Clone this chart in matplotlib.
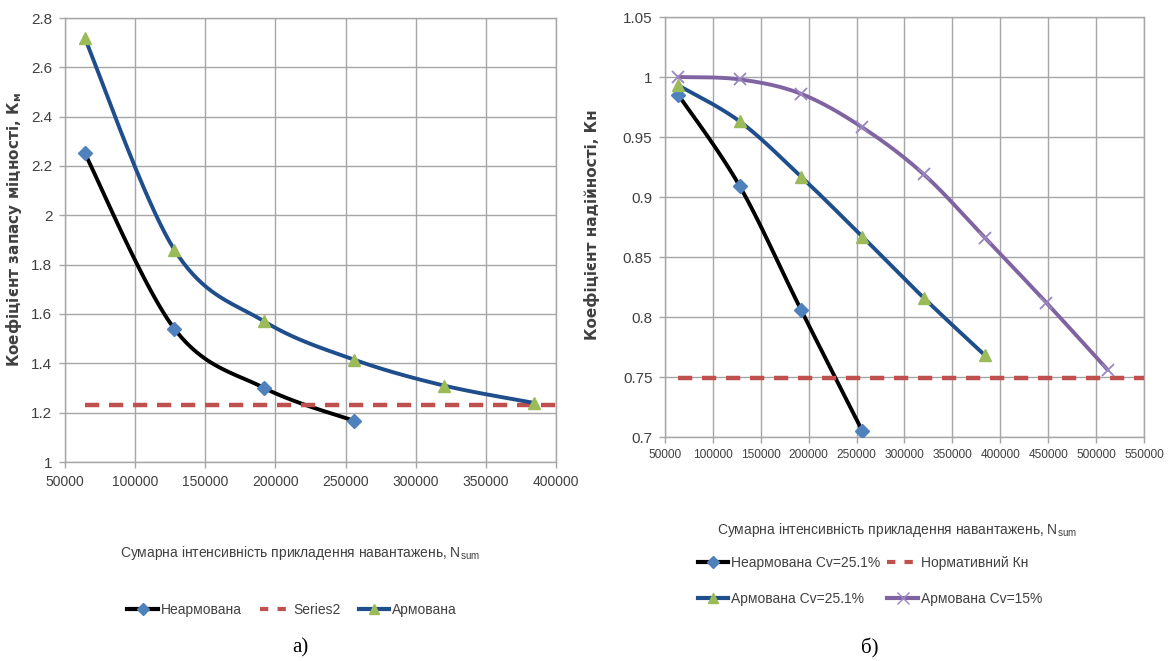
import numpy as np
import matplotlib
matplotlib.use("Agg")
import matplotlib.pyplot as plt
from matplotlib.lines import Line2D

# ---------------- data ----------------
# chart a)
a_x_unreinf = [64000, 128000, 192000, 256000]
a_y_unreinf = [2.253, 1.54, 1.30, 1.167]
a_x_reinf = [64000, 128000, 192000, 256000, 320000, 384000]
a_y_reinf = [2.72, 1.86, 1.57, 1.415, 1.31, 1.24]
a_x_norm = [64000, 400000]
a_y_norm = [1.232, 1.232]
a_labels = ["Неармована", "Series2", "Армована"]

# chart б)
b_x_unreinf = [64000, 128000, 192000, 256000]
b_y_unreinf = [0.985, 0.909, 0.806, 0.705]
b_x_reinf25 = [64000, 128000, 192000, 256000, 320000, 384000]
b_y_reinf25 = [0.993, 0.963, 0.917, 0.867, 0.816, 0.768]
b_x_reinf15 = [64000, 128000, 192000, 256000, 320000, 384000, 448000, 512000]
b_y_reinf15 = [1.0, 0.998, 0.986, 0.958, 0.919, 0.866, 0.812, 0.756]
b_x_norm = [64000, 550000]
b_y_norm = [0.749, 0.749]
b_labels = ["Неармована Cv=25.1%", "Нормативний Кн", "Армована Cv=25.1%", "Армована Cv=15%"]

xlabel = "Сумарна інтенсивність прикладення навантажень, N$_{\\mathregular{sum}}$"

# ---------------- style ----------------
TICKF = ["Liberation Sans", "DejaVu Sans"]
SERIF = ["Liberation Serif", "DejaVu Serif"]

C_BLACK = "#000000"
C_DIAM = "#4F81BD"
C_NAVY = "#1F4E8C"
C_GREEN = "#9BBB59"
C_RED = "#C0504D"
C_PURPLE = "#8064A2"
C_XMARK = "#9A86C0"
C_GRID = "#A6A6A6"
C_TEXT = "#404040"


def smooth(xs, ys, n=40):
    """Excel-like smoothed line (Catmull-Rom Bezier) through the given points."""
    xs = np.asarray(xs, float)
    ys = np.asarray(ys, float)
    if len(xs) < 3:
        return xs, ys
    px, py = [], []
    m = len(xs)
    for i in range(m - 1):
        p0 = (xs[max(i - 1, 0)], ys[max(i - 1, 0)])
        p1 = (xs[i], ys[i])
        p2 = (xs[i + 1], ys[i + 1])
        p3 = (xs[min(i + 2, m - 1)], ys[min(i + 2, m - 1)])
        c1 = (p1[0] + (p2[0] - p0[0]) / 6, p1[1] + (p2[1] - p0[1]) / 6)
        c2 = (p2[0] - (p3[0] - p1[0]) / 6, p2[1] - (p3[1] - p1[1]) / 6)
        t = np.linspace(0, 1, n)
        bx = (1 - t) ** 3 * p1[0] + 3 * (1 - t) ** 2 * t * c1[0] + 3 * (1 - t) * t ** 2 * c2[0] + t ** 3 * p2[0]
        by = (1 - t) ** 3 * p1[1] + 3 * (1 - t) ** 2 * t * c1[1] + 3 * (1 - t) * t ** 2 * c2[1] + t ** 3 * p2[1]
        px.extend(bx)
        py.extend(by)
    return np.array(px), np.array(py)


def fmt_num(v):
    return ("%.2f" % v).rstrip("0").rstrip(".")


def style_axes(ax, xlim, xticks, ylim, yticks, xsize, ysize):
    ax.set_xlim(*xlim)
    ax.set_ylim(*ylim)
    ax.set_xticks(xticks)
    ax.set_yticks(yticks)
    ax.set_xticklabels([str(v) for v in xticks], fontfamily=TICKF, fontsize=xsize, color=C_TEXT)
    ax.set_yticklabels([fmt_num(v) for v in yticks], fontfamily=TICKF, fontsize=ysize, color=C_TEXT)
    ax.grid(True, color=C_GRID, linewidth=1.0)
    ax.set_axisbelow(True)
    for s in ax.spines.values():
        s.set_color(C_GRID)
        s.set_linewidth(1.0)
    ax.tick_params(axis="both", direction="out", length=4, color=C_GRID, width=1.0, pad=5)


fig = plt.figure(figsize=(11.72, 6.61), dpi=100)
W, H = 1172, 661

# ---------------- chart a) ----------------
axA = fig.add_axes([65 / W, 1 - 462 / H, 491 / W, 444 / H])
style_axes(axA, (50000, 400000), list(range(50000, 400001, 50000)),
           (1.0, 2.8), [1.0, 1.2, 1.4, 1.6, 1.8, 2.0, 2.2, 2.4, 2.6, 2.8], 10, 11)

sx, sy = smooth(a_x_unreinf, a_y_unreinf)
axA.plot(sx, sy, color=C_BLACK, lw=2.8, solid_capstyle="round", zorder=3)
axA.plot(a_x_unreinf, a_y_unreinf, ls="none", marker="D", ms=7, color=C_DIAM, mec=C_DIAM, zorder=4)
axA.plot(a_x_norm, a_y_norm, color=C_RED, lw=3.2, dashes=(3.2, 2.2), zorder=3)
sx, sy = smooth(a_x_reinf, a_y_reinf)
axA.plot(sx, sy, color=C_NAVY, lw=2.8, solid_capstyle="round", zorder=3)
axA.plot(a_x_reinf, a_y_reinf, ls="none", marker="^", ms=9, color=C_GREEN, mec=C_GREEN, zorder=4)

fig.text(14 / W, 1 - 230 / H, "Коефіцієнт запасу міцності, К$_{\\mathregular{м}}$", rotation=90,
         ha="center", va="center", fontsize=11, color=C_TEXT, fontweight="bold",
         fontfamily=["DejaVu Sans"])
fig.text(300 / W, 1 - 553 / H, xlabel, ha="center", va="center",
         fontfamily=TICKF, fontsize=10, color=C_TEXT)

hA = [Line2D([], [], color=C_BLACK, lw=3, marker="D", ms=6, mfc=C_DIAM, mec=C_DIAM),
      Line2D([], [], color=C_RED, lw=3, dashes=(2, 2.2)),
      Line2D([], [], color=C_NAVY, lw=3, marker="^", ms=7, mfc=C_GREEN, mec=C_GREEN)]
legA = fig.legend(hA, a_labels, loc="center", bbox_to_anchor=(292 / W, 1 - 610 / H), ncol=3,
                  frameon=False, prop={"family": TICKF, "size": 10}, handlelength=2.2,
                  handletextpad=0.2, columnspacing=1.3)
for t in legA.get_texts():
    t.set_color(C_TEXT)

fig.text(300 / W, 1 - 648 / H, "а)", ha="center", va="center", fontfamily=SERIF, fontsize=15)

# ---------------- chart б) ----------------
axB = fig.add_axes([665 / W, 1 - 437 / H, 479 / W, 420 / H])
style_axes(axB, (50000, 550000), list(range(50000, 550001, 50000)),
           (0.7, 1.05), [0.7, 0.75, 0.8, 0.85, 0.9, 0.95, 1.0, 1.05], 8.6, 11)

sx, sy = smooth(b_x_unreinf, b_y_unreinf)
axB.plot(sx, sy, color=C_BLACK, lw=2.8, solid_capstyle="round", zorder=3)
axB.plot(b_x_unreinf, b_y_unreinf, ls="none", marker="D", ms=7, color=C_DIAM, mec=C_DIAM, zorder=4)
axB.plot(b_x_norm, b_y_norm, color=C_RED, lw=3.2, dashes=(3.2, 2.2), zorder=3)
sx, sy = smooth(b_x_reinf25, b_y_reinf25)
axB.plot(sx, sy, color=C_NAVY, lw=2.8, solid_capstyle="round", zorder=3)
axB.plot(b_x_reinf25, b_y_reinf25, ls="none", marker="^", ms=9, color=C_GREEN, mec=C_GREEN, zorder=4)
sx, sy = smooth(b_x_reinf15, b_y_reinf15)
axB.plot(sx, sy, color=C_PURPLE, lw=2.8, solid_capstyle="round", zorder=3)
axB.plot(b_x_reinf15, b_y_reinf15, ls="none", marker="x", ms=9, mew=1.3, color=C_XMARK, zorder=4)

fig.text(592 / W, 1 - 225 / H, "Коефіцієнт надійності, Кн", rotation=90,
         ha="center", va="center", fontsize=11, color=C_TEXT, fontweight="bold",
         fontfamily=["DejaVu Sans"])
fig.text(897 / W, 1 - 530 / H, xlabel, ha="center", va="center",
         fontfamily=TICKF, fontsize=10, color=C_TEXT)

hB = [Line2D([], [], color=C_BLACK, lw=3, marker="D", ms=6, mfc=C_DIAM, mec=C_DIAM),
      Line2D([], [], color=C_RED, lw=3, dashes=(2, 2.2)),
      Line2D([], [], color=C_NAVY, lw=3, marker="^", ms=7, mfc=C_GREEN, mec=C_GREEN),
      Line2D([], [], color=C_PURPLE, lw=3, marker="x", ms=8, mec=C_XMARK)]
# rows: (unreinf, norm) / (reinf25, reinf15)
legB = fig.legend([hB[0], hB[2], hB[1], hB[3]], [b_labels[0], b_labels[2], b_labels[1], b_labels[3]],
                  loc="center", bbox_to_anchor=(870 / W, 1 - 581 / H), ncol=2,
                  frameon=False, prop={"family": TICKF, "size": 10}, handlelength=2.2,
                  handletextpad=0.2, columnspacing=0.5, labelspacing=1.6)
for t in legB.get_texts():
    t.set_color(C_TEXT)

fig.text(870 / W, 1 - 648 / H, "б)", ha="center", va="center", fontfamily=SERIF, fontsize=15)

fig.savefig("out.png", dpi=100, facecolor="white")
